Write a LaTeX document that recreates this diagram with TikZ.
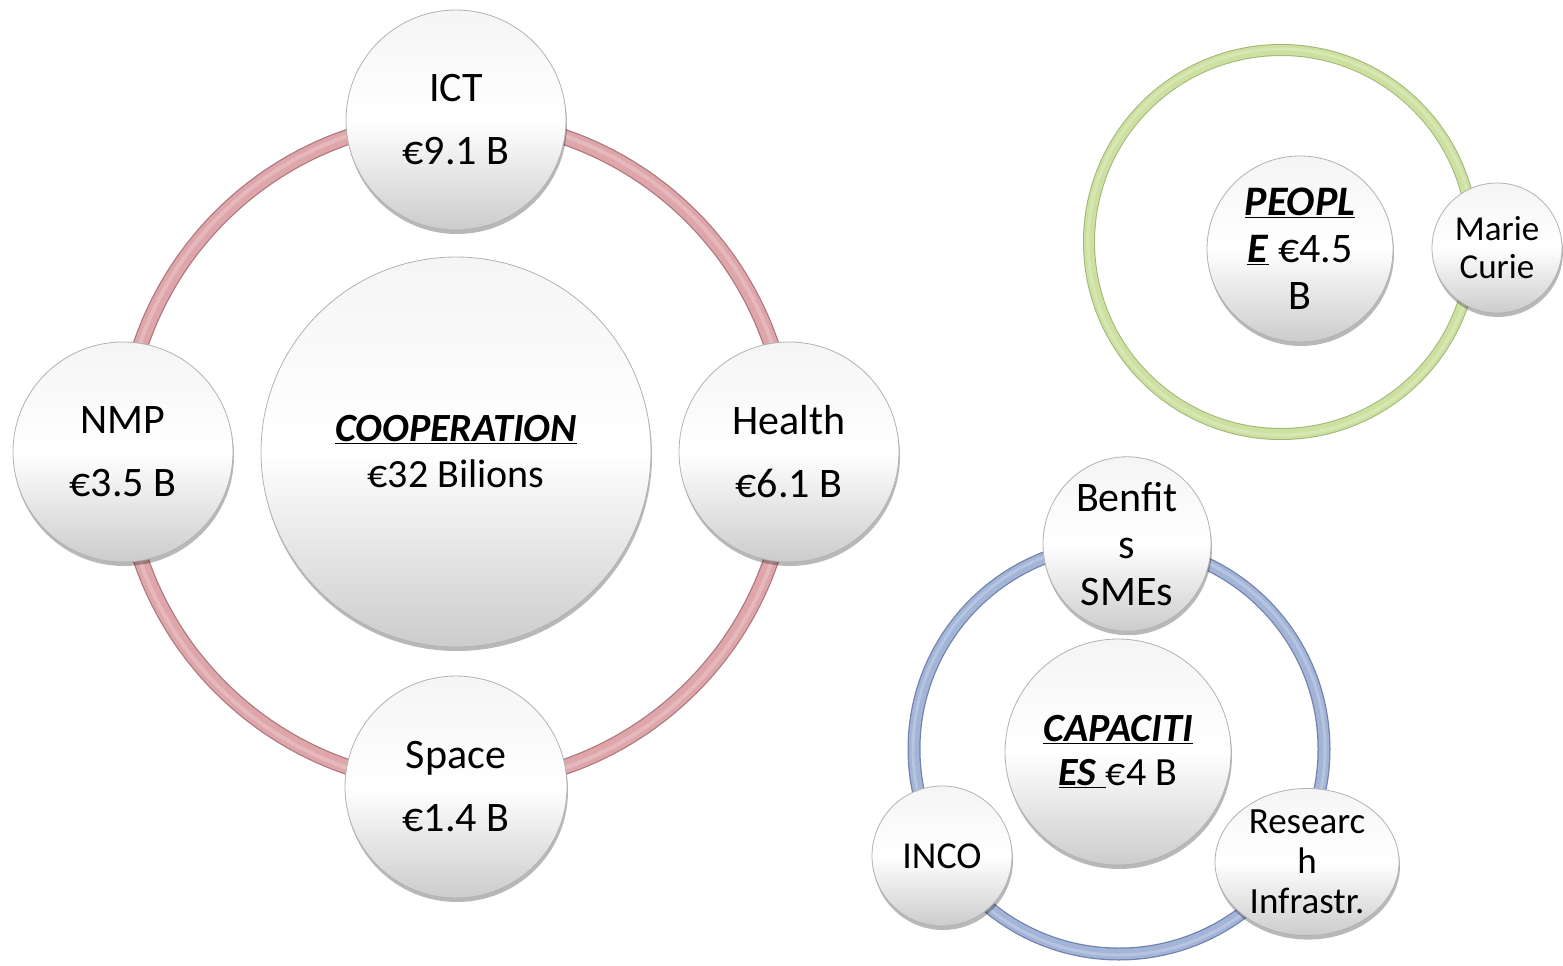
\documentclass[tikz,border=0pt]{standalone}
\usepackage{fontspec}
\setmainfont{Carlito}
\usetikzlibrary{shapes.geometric,shadows}
\definecolor{pinkR}{RGB}{222,166,170}
\definecolor{pinkD}{RGB}{172,120,125}
\definecolor{greenR}{RGB}{204,225,160}
\definecolor{greenD}{RGB}{160,182,120}
\definecolor{blueR}{RGB}{162,180,215}
\definecolor{blueD}{RGB}{112,130,168}
\tikzset{
  ballbase/.style={inner sep=0pt, align=center, draw=black!30, line width=0.8pt,
    top color=black!4, bottom color=black!20, middle color=white,
    drop shadow={shadow xshift=1pt, shadow yshift=-4pt, opacity=0.28, fill=black}},
  ball/.style={ballbase, circle, minimum size=#1},
  oval/.style 2 args={ballbase, ellipse, minimum width=#1, minimum height=#2},
  bigtxt/.style={font=\fontsize{42}{50}\selectfont},
}
\newcommand{\hdr}[1]{\underline{\textbf{\textit{#1}}}}
\begin{document}
\begin{tikzpicture}[x=1pt,y=-1pt]
\useasboundingbox (0,0) rectangle (1563,966);
% ring centres
\coordinate (coopc) at (456,452);
\coordinate (peoc) at (1281,242);
\coordinate (capc) at (1119,749);
% rings
\draw[pinkD, line width=16pt] (coopc) circle [radius=333pt];
\draw[pinkR, line width=13.5pt] (coopc) circle [radius=333pt];
\draw[white, opacity=0.22, line width=4pt] (coopc) circle [radius=334pt];
\draw[greenD, line width=12pt] (peoc) circle [radius=192pt];
\draw[greenR, line width=10pt] (peoc) circle [radius=192pt];
\draw[white, opacity=0.22, line width=3pt] (peoc) circle [radius=193pt];
\draw[blueD, line width=13pt] (capc) circle [radius=205pt];
\draw[blueR, line width=10.5pt] (capc) circle [radius=205pt];
\draw[white, opacity=0.22, line width=3pt] (capc) circle [radius=206pt];
% COOPERATION
\node[ball=390pt, font=\fontsize{40}{46}\selectfont] (coop) at (456,452) {\hdr{COOPERATION}\\€32 Bilions};
\node[ball=220pt, bigtxt] (ict) at (456,120) {ICT\\[13pt]€9.1 B};
\node[ball=220pt, bigtxt] (health) at (789,452) {Health\\[13pt]€6.1 B};
\node[ball=220pt, bigtxt] (nmp) at (123,452) {NMP\\[13pt]€3.5 B};
\node[ball=222pt, bigtxt] (space) at (456,787) {Space\\[13pt]€1.4 B};
% PEOPLE
\node[ball=186pt, font=\fontsize{42}{47}\selectfont] (peo) at (1300,249) {\hdr{PEOPL}\\\hdr{E} €4.5\\B};
\node[ball=130pt, font=\fontsize{35}{38}\selectfont] (marie) at (1497,248) {Marie\\Curie};
% CAPACITIES
\node[ball=226pt, font=\fontsize{40}{44}\selectfont] (cap) at (1118,752) {\hdr{CAPACITI}\\\hdr{ES\ }€4 B};
\node[oval={168pt}{132pt}, font=\fontsize{42}{47}\selectfont] (smes) at (1127,544) {Benfit\\s\\SMEs};
\node[ball=140pt, font=\fontsize{38}{44}\selectfont] (inco) at (942,856) {INCO};
\node[oval={184pt}{130pt}, font=\fontsize{37}{40}\selectfont] (infra) at (1307,862) {Researc\\h\\Infrastr.};
\end{tikzpicture}
\end{document}
